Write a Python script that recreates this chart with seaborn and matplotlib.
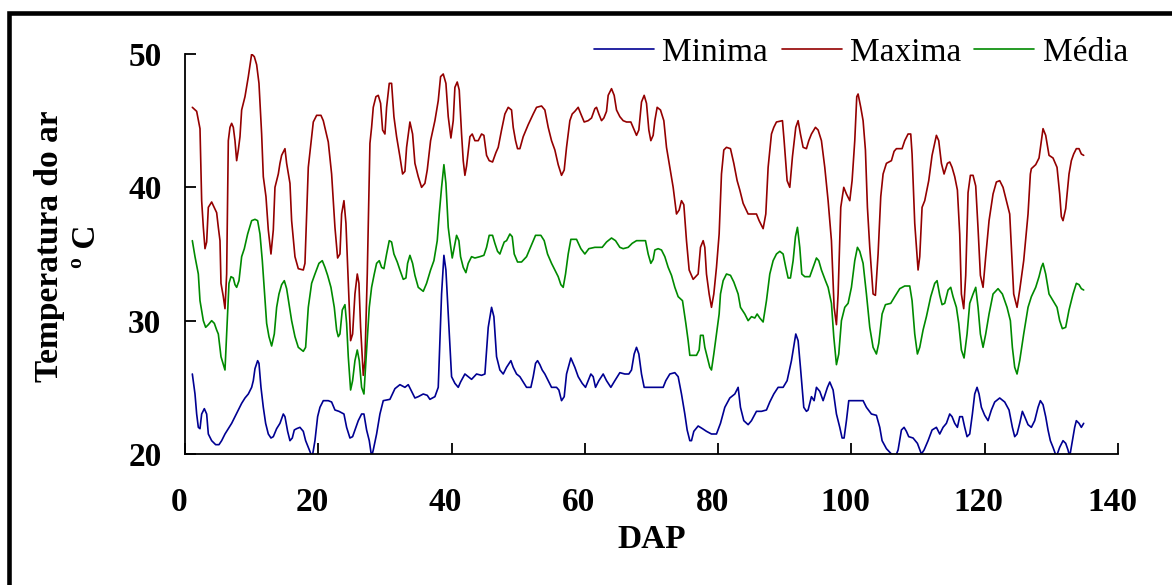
import matplotlib
matplotlib.use("Agg")
import matplotlib.pyplot as plt
from matplotlib.patches import Rectangle
from matplotlib.transforms import ScaledTranslation
import seaborn as sns

# =============================================================================
# DATA
# =============================================================================
max_dap = [1.1, 1.75, 2.25, 2.5, 2.75, 3.0, 3.25, 3.5, 4.0, 4.75, 5.0, 5.25, 5.4, 5.75, 6.0, 6.25,
           6.5, 6.75, 7.0, 7.25, 7.5, 7.75, 8.0, 8.25, 8.5, 9.0, 9.5, 10.0, 10.4, 10.75, 11.1, 11.5,
           11.75, 12.15, 12.5, 12.9, 13.25, 13.5, 14.0, 14.25, 14.5, 15.0, 15.25, 15.75, 16.0, 16.5,
           17.0, 17.75, 18.0, 18.5, 19.0, 19.25, 19.75, 20.4, 20.75, 21.5, 22.0, 22.5, 22.9, 23.25,
           23.5, 23.85, 24.15, 24.5, 24.85, 25.15, 25.5, 25.85, 26.1, 26.35, 26.75, 27.0, 27.35,
           27.75, 28.0, 28.25, 28.65, 29.0, 29.35, 29.65, 30.0, 30.25, 30.65, 31.0, 31.35, 31.75,
           32.25, 32.65, 33.0, 33.25, 33.75, 34.15, 34.5, 35.0, 35.5, 36.0, 36.35, 36.85, 37.5, 38.0,
           38.35, 38.75, 39.15, 39.5, 39.9, 40.25, 40.5, 40.85, 41.15, 41.5, 41.75, 42.0, 42.25,
           42.75, 43.1, 43.5, 44.0, 44.5, 44.85, 45.25, 45.65, 46.15, 46.65, 47.0, 47.5, 48.0, 48.5,
           49.0, 49.25, 49.6, 49.9, 50.25, 50.75, 51.5, 52.25, 52.75, 53.5, 54.0, 54.5, 55.0, 55.5,
           56.0, 56.5, 56.9, 57.25, 57.75, 58.1, 58.5, 59.0, 59.4, 59.9, 60.5, 61.0, 61.5, 61.75,
           62.1, 62.5, 62.85, 63.25, 63.5, 64.0, 64.4, 64.75, 65.25, 65.75, 66.25, 66.9, 67.4, 67.75,
           68.1, 68.5, 68.9, 69.25, 69.6, 69.9, 70.25, 70.5, 70.85, 71.35, 71.85, 72.25, 72.75,
           73.25, 73.75, 74.15, 74.5, 74.85, 75.25, 75.65, 76.25, 77.0, 77.35, 77.75, 78.0, 78.25,
           78.65, 79.0, 79.35, 79.75, 80.15, 80.5, 80.85, 81.25, 81.85, 82.35, 82.85, 83.25, 83.75,
           84.5, 85.25, 85.75, 86.15, 86.75, 87.15, 87.5, 88.0, 88.35, 88.75, 89.65, 89.9, 90.35,
           90.75, 91.15, 91.65, 92.0, 92.35, 92.75, 93.25, 93.6, 94.0, 94.6, 95.0, 95.5, 96.0, 96.5,
           97.0, 97.4, 97.75, 98.0, 98.4, 98.85, 99.25, 99.75, 100.1, 100.5, 100.8, 101.0, 101.4,
           101.75, 102.1, 102.4, 102.75, 103.25, 103.6, 104.0, 104.4, 104.75, 105.25, 106.0, 106.4,
           106.75, 107.6, 108.0, 108.5, 108.9, 109.1, 109.5, 110.0, 110.25, 110.6, 111.0, 111.6,
           112.1, 112.5, 112.75, 113.1, 113.5, 113.9, 114.4, 114.75, 115.1, 115.5, 115.9, 116.25,
           116.5, 116.85, 117.15, 117.5, 117.85, 118.25, 118.65, 119.0, 119.35, 119.75, 120.15,
           120.65, 121.25, 121.75, 122.25, 122.75, 123.25, 123.75, 124.0, 124.35, 124.85, 125.25,
           125.85, 126.5, 126.85, 127.0, 127.65, 128.15, 128.5, 128.75, 129.15, 129.65, 130.25,
           130.85, 131.25, 131.5, 131.75, 132.15, 132.65, 133.0, 133.35, 133.75, 134.15, 134.5,
           134.85]
max_temp = [46.0, 45.7, 44.4, 39.0, 37.0, 35.4, 35.9, 38.5, 38.9, 38.1, 37.0, 36.0, 32.8, 31.8, 30.9,
            33.5, 43.5, 44.5, 44.8, 44.5, 43.5, 42.0, 42.8, 43.8, 45.8, 46.8, 48.3, 50.0, 49.8, 49.2,
            47.8, 44.0, 40.8, 39.3, 36.8, 35.0, 36.8, 40.0, 41.0, 41.8, 42.4, 42.9, 41.8, 40.3, 37.5,
            34.8, 33.9, 33.8, 34.3, 41.5, 43.8, 44.9, 45.4, 45.4, 45.0, 43.4, 41.0, 37.0, 34.7, 35.0,
            38.0, 39.0, 37.3, 33.0, 28.5, 29.0, 32.0, 33.5, 32.8, 29.5, 25.9, 27.0, 33.5, 43.3, 44.5,
            46.0, 46.8, 46.9, 46.3, 44.3, 44.0, 46.0, 47.8, 47.8, 45.3, 43.8, 42.3, 41.0, 41.2, 43.0,
            44.9, 44.0, 41.8, 40.8, 40.0, 40.3, 41.3, 43.5, 45.0, 46.5, 48.3, 48.5, 47.8, 45.3, 43.7,
            45.0, 47.5, 47.9, 47.3, 44.0, 42.0, 40.9, 41.6, 43.8, 44.0, 43.5, 43.5, 44.0, 43.9, 42.4,
            42.0, 41.9, 42.6, 43.0, 44.3, 45.5, 46.0, 45.8, 44.5, 43.5, 42.9, 42.9, 43.8, 44.7, 45.5,
            46.0, 46.1, 45.8, 44.5, 43.5, 42.8, 41.7, 40.9, 41.3, 43.0, 45.0, 45.5, 45.7, 46.0, 45.5,
            44.9, 45.0, 45.2, 45.9, 46.0, 45.5, 45.0, 45.2, 45.7, 46.9, 47.4, 46.9, 45.8, 45.3, 45.0,
            44.9, 44.9, 44.3, 43.9, 44.3, 46.4, 46.9, 46.3, 44.3, 43.5, 43.9, 45.0, 46.0, 45.8, 45.0,
            43.0, 41.5, 40.0, 38.0, 38.3, 39.0, 38.7, 36.0, 33.8, 33.1, 33.5, 35.5, 36.0, 35.5, 33.5,
            32.0, 31.0, 32.0, 34.0, 36.5, 41.0, 42.8, 43.0, 42.9, 41.8, 40.5, 39.8, 38.8, 38.0, 38.0,
            38.0, 37.5, 36.9, 38.0, 41.5, 44.0, 44.5, 44.9, 45.0, 43.5, 40.5, 40.0, 42.3, 44.5, 45.0,
            44.0, 43.0, 42.9, 43.5, 44.0, 44.5, 44.3, 43.5, 41.5, 39.0, 36.0, 31.0, 29.7, 32.0, 38.5,
            40.0, 39.5, 39.0, 40.5, 43.5, 46.8, 47.0, 46.0, 45.0, 42.8, 38.5, 35.5, 32.0, 31.9, 35.0,
            39.3, 41.0, 41.8, 42.0, 42.7, 42.9, 42.9, 43.5, 44.0, 44.0, 42.5, 37.3, 33.8, 34.8, 38.5,
            39.0, 40.5, 42.4, 43.3, 43.9, 43.5, 41.8, 41.0, 41.8, 41.9, 41.5, 40.8, 39.8, 36.5, 32.0,
            30.9, 33.4, 39.6, 40.9, 40.9, 40.1, 36.9, 33.4, 32.5, 34.8, 37.5, 39.5, 40.4, 40.5, 40.0,
            39.0, 38.0, 35.5, 32.0, 31.0, 32.3, 34.5, 38.0, 41.0, 41.4, 41.7, 42.2, 43.5, 44.4, 43.9,
            42.4, 42.2, 41.5, 39.5, 37.8, 37.5, 38.4, 41.0, 42.0, 42.5, 42.9, 42.9, 42.5, 42.4]

med_dap = [1.1, 1.5, 2.0, 2.25, 2.75, 3.1, 3.5, 4.0, 4.4, 4.75, 5.0, 5.4, 5.75, 6.0, 6.25, 6.6, 6.9,
           7.25, 7.5, 7.75, 8.1, 8.5, 8.9, 9.4, 10.0, 10.5, 10.9, 11.25, 11.6, 11.9, 12.25, 12.6,
           13.0, 13.4, 13.75, 14.1, 14.5, 14.9, 15.25, 15.6, 16.0, 16.5, 17.0, 17.75, 18.1, 18.5,
           19.0, 19.5, 20.1, 20.6, 21.0, 21.4, 21.9, 22.4, 22.75, 23.0, 23.25, 23.6, 24.0, 24.25,
           24.5, 24.85, 25.15, 25.5, 25.85, 26.15, 26.5, 26.85, 27.15, 27.65, 28.0, 28.4, 28.75,
           29.15, 29.5, 29.85, 30.25, 30.65, 31.0, 31.35, 31.85, 32.25, 32.75, 33.15, 33.4, 33.75,
           34.15, 34.5, 35.0, 35.75, 36.25, 36.85, 37.35, 37.85, 38.15, 38.5, 38.85, 39.15, 39.5,
           39.75, 40.1, 40.4, 40.75, 41.1, 41.35, 41.75, 42.15, 42.5, 43.0, 43.5, 44.25, 44.85,
           45.25, 45.65, 46.15, 46.5, 46.9, 47.25, 47.6, 47.9, 48.25, 48.75, 49.1, 49.4, 49.9, 50.5,
           51.25, 52.0, 52.6, 53.4, 53.9, 54.4, 55.0, 55.5, 56.0, 56.4, 56.75, 57.1, 57.5, 57.9,
           58.75, 59.4, 60.0, 60.6, 61.5, 62.6, 63.25, 64.0, 64.6, 65.25, 65.75, 66.5, 67.1, 67.75,
           68.75, 69.1, 69.5, 69.9, 70.25, 70.5, 71.0, 71.5, 72.0, 72.5, 73.0, 73.5, 74.0, 74.65,
           75.15, 75.5, 75.75, 76.75, 77.15, 77.35, 77.75, 78.0, 78.35, 78.75, 79.0, 79.35, 79.75,
           80.15, 80.35, 80.75, 81.25, 81.85, 82.35, 83.0, 83.35, 84.0, 84.5, 85.0, 85.5, 85.85,
           86.25, 86.75, 87.25, 87.75, 88.25, 88.75, 89.25, 89.75, 90.15, 90.5, 90.85, 91.25, 91.6,
           91.9, 92.25, 92.55, 93.0, 93.75, 94.25, 94.75, 95.1, 95.5, 96.1, 96.5, 97.0, 97.35,
           97.75, 98.1, 98.5, 99.0, 99.5, 100.0, 100.5, 100.9, 101.25, 101.75, 102.25, 102.75,
           103.25, 103.75, 104.1, 104.6, 105.1, 105.9, 106.5, 107.25, 108.0, 108.75, 109.1, 109.5,
           109.9, 110.25, 110.75, 111.25, 111.9, 112.5, 112.85, 113.25, 113.6, 114.0, 114.5, 114.9,
           115.25, 115.75, 116.1, 116.5, 116.9, 117.35, 117.75, 118.25, 118.65, 119.0, 119.35,
           119.75, 120.15, 120.65, 121.25, 122.0, 122.65, 123.35, 123.85, 124.15, 124.5, 124.85,
           125.25, 125.85, 126.5, 127.0, 127.65, 128.15, 128.5, 128.75, 129.15, 129.65, 130.25,
           130.85, 131.25, 131.65, 132.15, 132.65, 133.25, 133.75, 134.15, 134.5, 134.85]
med_temp = [36.0, 34.8, 33.5, 31.5, 30.0, 29.5, 29.7, 30.0, 29.8, 29.3, 29.0, 27.3, 26.7, 26.3, 29.0,
            32.8, 33.3, 33.2, 32.7, 32.5, 33.0, 34.8, 35.4, 36.5, 37.5, 37.6, 37.5, 36.5, 34.5, 32.3,
            29.8, 28.8, 28.1, 29.0, 31.0, 32.0, 32.7, 33.0, 32.4, 31.3, 30.0, 28.8, 28.0, 27.7, 28.0,
            31.0, 32.8, 33.5, 34.3, 34.5, 34.0, 33.4, 32.5, 31.0, 29.3, 28.8, 29.0, 30.8, 31.2, 29.8,
            27.3, 24.8, 25.5, 27.0, 27.8, 27.0, 25.0, 24.5, 27.0, 31.0, 32.5, 33.5, 34.3, 34.5, 34.0,
            33.9, 35.0, 36.0, 35.9, 35.0, 34.4, 33.8, 33.1, 33.2, 34.3, 34.9, 34.3, 33.4, 32.5, 32.2,
            32.8, 33.8, 34.5, 36.0, 38.0, 40.0, 41.7, 40.3, 37.0, 36.0, 34.7, 35.5, 36.4, 36.0, 34.8,
            34.0, 33.6, 34.3, 34.8, 34.7, 34.8, 34.9, 35.5, 36.4, 36.4, 35.8, 35.2, 35.0, 35.5, 35.9,
            36.0, 36.5, 36.3, 35.0, 34.4, 34.4, 34.8, 35.7, 36.4, 36.4, 36.0, 35.0, 34.3, 33.8, 33.3,
            32.7, 32.5, 33.5, 35.0, 36.1, 36.1, 35.4, 35.0, 35.4, 35.5, 35.5, 35.9, 36.2, 36.0, 35.5,
            35.4, 35.5, 35.8, 36.0, 36.0, 36.0, 35.0, 34.3, 34.6, 35.3, 35.4, 35.3, 34.8, 34.0, 33.4,
            32.5, 31.8, 31.5, 29.8, 28.5, 27.4, 27.4, 27.8, 28.9, 28.9, 28.0, 27.3, 26.5, 26.3, 27.5,
            29.0, 30.5, 32.0, 33.0, 33.5, 33.4, 32.9, 32.0, 31.0, 30.5, 30.0, 30.3, 30.2, 30.5, 30.2,
            29.9, 31.5, 33.5, 34.5, 35.0, 35.2, 35.0, 34.0, 33.2, 33.2, 34.5, 36.3, 37.0, 35.5, 33.5,
            33.3, 33.3, 34.0, 34.7, 34.5, 33.8, 33.0, 32.5, 31.3, 28.8, 26.7, 27.5, 30.0, 31.0, 31.3,
            32.5, 34.5, 35.5, 35.2, 34.3, 32.0, 29.5, 28.0, 27.5, 28.3, 30.5, 31.2, 31.3, 31.8, 32.4,
            32.6, 32.6, 31.5, 29.0, 27.5, 28.0, 29.3, 30.3, 31.8, 32.8, 33.0, 31.9, 31.2, 31.3, 32.3,
            32.5, 31.8, 31.0, 29.8, 27.8, 27.2, 29.0, 31.3, 32.0, 32.5, 31.0, 29.0, 28.0, 29.0, 30.5,
            32.0, 32.4, 32.0, 31.0, 30.0, 28.0, 26.5, 26.0, 27.0, 29.0, 31.0, 31.8, 32.5, 33.3, 34.0,
            34.3, 33.5, 32.0, 31.5, 31.0, 30.0, 29.4, 29.5, 30.8, 32.0, 32.8, 32.7, 32.4, 32.3]

min_dap = [1.1, 1.5, 1.75, 2.0, 2.25, 2.5, 2.9, 3.25, 3.5, 4.0, 4.6, 5.1, 5.5, 6.0, 6.5, 7.0, 7.5,
           8.0, 8.5, 9.0, 9.5, 10.0, 10.25, 10.5, 10.9, 11.1, 11.4, 11.75, 12.1, 12.5, 12.9, 13.25,
           13.75, 14.25, 14.75, 15.0, 15.4, 15.75, 16.1, 16.4, 16.75, 17.25, 17.75, 18.1, 18.5, 18.9,
           19.1, 19.5, 19.9, 20.25, 20.75, 21.5, 22.0, 22.5, 23.1, 23.85, 24.25, 24.75, 25.15, 25.5,
           26.0, 26.5, 26.85, 27.25, 27.65, 28.0, 28.25, 28.75, 29.25, 29.75, 30.75, 31.5, 32.25,
           33.0, 33.5, 34.0, 34.5, 35.0, 35.75, 36.35, 36.75, 37.5, 38.0, 38.25, 38.5, 38.85, 39.15,
           39.5, 40.0, 40.5, 41.0, 41.35, 42.0, 42.5, 43.0, 43.75, 44.5, 45.0, 45.5, 46.0, 46.35,
           46.75, 47.25, 47.75, 48.25, 48.9, 49.25, 49.75, 50.25, 50.75, 51.25, 51.9, 52.25, 52.6,
           52.9, 53.25, 53.6, 54.0, 54.5, 55.0, 55.75, 56.1, 56.5, 56.9, 57.25, 57.9, 58.5, 59.0,
           59.6, 60.1, 60.5, 60.9, 61.25, 61.6, 62.1, 62.75, 63.25, 63.9, 64.5, 65.25, 66.0, 66.6,
           67.0, 67.4, 67.75, 68.1, 68.5, 68.9, 71.75, 72.15, 72.75, 73.5, 74.0, 74.5, 75.0, 75.35,
           75.75, 76.0, 76.35, 77.0, 77.65, 78.25, 79.0, 79.75, 80.35, 81.0, 81.75, 82.5, 83.0,
           83.35, 83.85, 84.5, 85.0, 85.75, 86.5, 87.25, 87.75, 88.35, 89.0, 89.75, 90.35, 91.0,
           91.65, 92.0, 92.35, 92.85, 93.25, 93.5, 94.0, 94.4, 94.75, 95.25, 95.75, 96.4, 96.75,
           97.25, 97.75, 98.25, 98.6, 98.9, 99.25, 99.6, 101.75, 102.25, 103.0, 103.75, 104.25,
           104.6, 105.25, 106.0, 106.6, 107.0, 107.5, 107.9, 108.25, 108.6, 109.25, 109.9, 110.5,
           110.9, 111.5, 112.1, 112.75, 113.25, 113.75, 114.25, 114.75, 115.1, 115.5, 115.9, 116.25,
           116.65, 117.0, 117.35, 117.75, 118.15, 118.5, 118.85, 119.15, 119.5, 120.0, 120.5, 121.0,
           121.5, 122.25, 123.0, 123.65, 124.15, 124.5, 124.85, 125.25, 125.65, 126.0, 126.5, 127.0,
           127.5, 128.0, 128.35, 128.75, 129.15, 129.5, 129.85, 130.25, 130.75, 131.25, 131.75,
           132.15, 132.5, 132.75, 133.15, 133.5, 133.75, 134.15, 134.5, 134.85]
min_temp = [26.0, 24.5, 23.0, 22.0, 21.9, 23.0, 23.4, 23.0, 21.5, 21.0, 20.7, 20.7, 21.0, 21.5, 21.9,
            22.3, 22.8, 23.3, 23.8, 24.2, 24.5, 25.0, 25.5, 26.4, 27.0, 26.8, 25.0, 23.5, 22.3, 21.5,
            21.2, 21.3, 21.9, 22.3, 23.0, 22.8, 21.7, 21.0, 21.2, 21.8, 21.9, 22.0, 21.7, 21.0, 20.5,
            20.0, 19.8, 21.0, 22.8, 23.5, 24.0, 24.0, 23.9, 23.3, 23.2, 23.0, 22.0, 21.2, 21.3, 21.8,
            22.5, 23.0, 23.0, 21.8, 21.0, 19.8, 20.3, 21.5, 23.0, 24.0, 24.1, 24.9, 25.2, 25.0, 25.2,
            24.7, 24.2, 24.3, 24.5, 24.4, 24.1, 24.3, 25.0, 28.5, 32.0, 34.9, 33.8, 30.5, 25.8, 25.3,
            25.0, 25.4, 26.0, 25.8, 25.6, 26.0, 25.9, 26.0, 29.5, 31.0, 30.3, 27.3, 26.3, 26.0, 26.5,
            27.0, 26.5, 26.0, 25.8, 25.4, 25.0, 25.0, 25.8, 26.8, 27.0, 26.7, 26.3, 26.0, 25.5, 25.0,
            25.0, 24.8, 24.0, 24.3, 26.0, 27.2, 26.5, 25.8, 25.3, 25.0, 25.5, 26.0, 25.8, 25.0, 25.5,
            26.0, 25.5, 25.0, 25.5, 26.1, 26.0, 26.0, 26.3, 27.5, 28.0, 27.5, 26.0, 25.0, 25.0, 25.5,
            26.0, 26.1, 25.8, 24.5, 23.0, 21.8, 21.0, 21.0, 21.7, 22.1, 21.9, 21.7, 21.5, 21.5, 22.3,
            23.5, 24.2, 24.5, 25.0, 23.5, 22.5, 22.2, 22.5, 23.2, 23.2, 23.3, 23.9, 24.5, 25.0, 25.0,
            25.5, 27.0, 29.0, 28.5, 26.5, 23.5, 23.2, 23.3, 24.3, 24.0, 25.0, 24.7, 24.0, 25.0, 25.4,
            24.8, 23.0, 22.0, 21.2, 21.2, 22.5, 24.0, 24.0, 23.5, 23.0, 22.9, 22.0, 21.0, 20.4, 20.0,
            19.8, 20.3, 21.8, 22.0, 21.7, 21.3, 21.2, 20.8, 20.0, 20.3, 21.0, 21.8, 22.0, 21.5, 22.0,
            22.3, 23.0, 22.8, 22.3, 22.0, 22.8, 22.8, 22.0, 21.3, 21.5, 23.0, 24.5, 25.0, 24.5, 23.5,
            22.9, 22.5, 23.3, 23.9, 24.2, 23.9, 23.3, 22.0, 21.3, 21.5, 22.3, 23.2, 22.8, 22.2, 22.0,
            22.5, 23.5, 24.0, 23.7, 22.8, 21.8, 21.0, 20.5, 19.8, 20.5, 21.0, 20.8, 20.3, 19.8, 21.0,
            22.0, 22.5, 22.3, 22.0, 22.3]

series_names = ["Minima", "Maxima", "Média"]
x_ticks = [0, 20, 40, 60, 80, 100, 120, 140]
y_ticks = [20, 30, 40, 50]


# =============================================================================
# PLOT
# =============================================================================
sns.set_theme(style="ticks", rc={
    "axes.edgecolor": "black", "xtick.color": "black", "ytick.color": "black",
    "text.color": "black", "axes.labelcolor": "black",
})
plt.rcParams["font.family"] = ["Liberation Serif", "DejaVu Serif"]

W, H = 1172, 585
fig = plt.figure(figsize=(W / 100, H / 100), dpi=100)
ax = fig.add_axes([185 / W, 1 - 454 / H, (1118 - 185) / W, (454 - 54) / H])

colors = ["#000092", "#940000", "#008a00"]
for dap, temp, color, name in zip([min_dap, max_dap, med_dap],
                                  [min_temp, max_temp, med_temp],
                                  colors, series_names):
    sns.lineplot(x=dap, y=temp, ax=ax, color=color, linewidth=1.2,
                 estimator=None, sort=False, label=name)

ax.set_xlim(0, 140)
ax.set_ylim(20, 50)
ax.set_xticks(x_ticks)
ax.set_yticks(y_ticks)
sns.despine(ax=ax)
for side in ["left", "bottom"]:
    ax.spines[side].set_linewidth(1.3)
ax.tick_params(direction="in", length=8, width=1.3, labelsize=24)
ax.tick_params(axis="x", pad=24)
ax.tick_params(axis="y", pad=17)
# x tick labels sit a few pixels left of their ticks in the original
shift = ScaledTranslation(-6 / 100, 0, fig.dpi_scale_trans)
for lbl in ax.get_xticklabels():
    lbl.set_transform(lbl.get_transform() + shift)
for lbl in ax.get_xticklabels() + ax.get_yticklabels():
    lbl.set_fontweight("bold")

ax.set_xlabel("DAP", fontsize=24, fontweight="bold", labelpad=4)
ax.set_ylabel("")
fig.text(68 / W, 1 - 246 / H, "Temperatura do ar\nº C", rotation=90,
         ha="center", va="center", multialignment="center",
         fontsize=24, fontweight="bold", linespacing=1.25)

ax.legend(loc="center right", bbox_to_anchor=(1128 / W, 1 - 52.5 / H),
          bbox_transform=fig.transFigure, ncol=3, frameon=False, fontsize=24,
          handlelength=1.8, handletextpad=0.25, columnspacing=0.4,
          borderpad=0, borderaxespad=0)

# thick outer frame (only left and top edges are visible in the picture)
fig.add_artist(Rectangle((9 / W, -0.1), 1.2, 1.1 - 12.8 / H, transform=fig.transFigure,
                         fill=False, edgecolor="black", linewidth=3.3, clip_on=False))

fig.savefig("out.png", dpi=100)
plt.close(fig)
